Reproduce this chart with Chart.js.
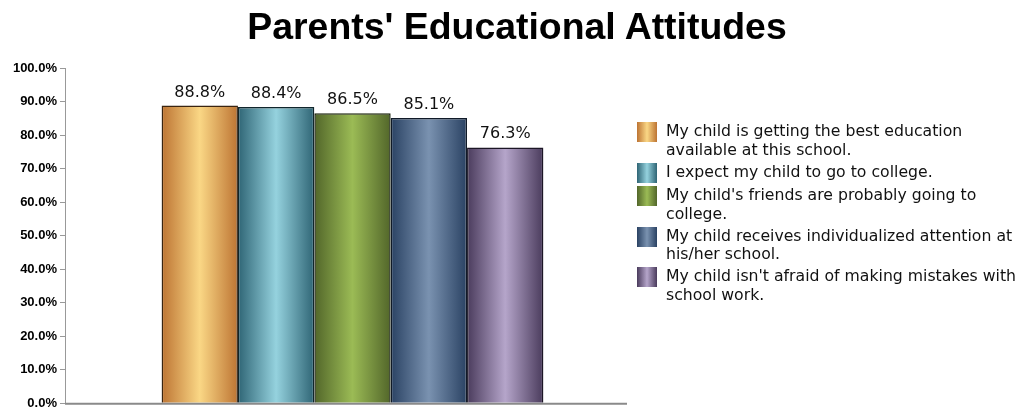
<!DOCTYPE html>
<html>
<head>
<meta charset="utf-8">
<script src="https://cdn.jsdelivr.net/npm/chart.js@4.4.1/dist/chart.umd.min.js"></script>
<style>
  body { margin: 0; background: #fff; overflow: hidden; }
  #wrap { position: relative; width: 1020px; height: 407px; overflow: hidden; }
  #title { position: absolute; left: 0; width: 1034px; top: 4px; text-align: center; font: bold 37.4px "Liberation Sans", Arial, sans-serif; line-height: 44px; color: #000; }
  #legend { position: absolute; left: 637px; top: 122px; font-family: "DejaVu Sans", Verdana, sans-serif; font-size: 15.7px; color: #111; }
  #legend .item { display: flex; align-items: flex-start; margin-bottom: 3.5px; }
  #legend .box { width: 20px; height: 20px; flex: none; margin-right: 9px; }
  #legend .txt { line-height: 18.5px; white-space: nowrap; }
</style>
</head>
<body>
<div id="wrap">
  <canvas id="myChart" width="1020" height="414"></canvas>
  <div id="title"></div>
  <div id="legend"></div>
</div>
<script>
var title = "Parents' Educational Attitudes";
// legend entries, split into their printed lines
var labels = [["My child is getting the best education", "available at this school."],
              ["I expect my child to go to college."],
              ["My child's friends are probably going to", "college."],
              ["My child receives individualized attention at", "his/her school."],
              ["My child isn't afraid of making mistakes with", "school work."]];
var values = [88.8, 88.4, 86.5, 85.1, 76.3];
// edge / highlight colour for each bar
var darkColors = ["#bd7433", "#2f6575", "#52662a", "#2a4263", "#4a3b5c"];
var lightColors = ["#fad785", "#95d2de", "#9bbb55", "#7a92b0", "#b5a5ca"];
var borderColors = ["#3a2410", "#10262c", "#1c240e", "#101a28", "#1c1626"];
var axisEnd = 627;

function barGradient(ctx, left, right, i) {
    var g = ctx.createLinearGradient(left, 0, right, 0);
    g.addColorStop(0, darkColors[i]);
    g.addColorStop(0.5, lightColors[i]);
    g.addColorStop(1, darkColors[i]);
    return g;
}

var gradientBars = {
    id: 'gradientBars',
    beforeDatasetsDraw(chart) {
        chart.data.datasets.forEach((ds, i) => {
            chart.getDatasetMeta(i).data.forEach(bar => {
                bar.options.backgroundColor = barGradient(chart.ctx, bar.x - bar.width / 2, bar.x + bar.width / 2, i);
            });
        });
    }
};

var valueLabels = {
    id: 'valueLabels',
    afterDatasetsDraw(chart) {
        var ctx = chart.ctx;
        ctx.save();
        ctx.font = '16px "DejaVu Sans", Verdana, sans-serif';
        ctx.fillStyle = '#111';
        ctx.textAlign = 'center';
        ctx.textBaseline = 'alphabetic';
        chart.data.datasets.forEach((ds, i) => {
            chart.getDatasetMeta(i).data.forEach((bar, j) => {
                ctx.fillText(ds.data[j].toFixed(1) + '%', bar.x, bar.y - 9);
            });
        });
        ctx.restore();
    }
};

// x axis baseline, a little shorter than the plot area
var baseLine = {
    id: 'baseLine',
    afterDraw(chart) {
        var ctx = chart.ctx;
        var y = chart.scales.y.getPixelForValue(0);
        ctx.save();
        ctx.strokeStyle = '#8a8a8a';
        ctx.lineWidth = 2;
        ctx.beginPath();
        ctx.moveTo(chart.chartArea.left, y + 0.5);
        ctx.lineTo(axisEnd, y + 0.5);
        ctx.stroke();
        ctx.restore();
    }
};

var datasets = labels.map((l, i) => ({
    label: l.join(' '),
    data: [values[i]],
    backgroundColor: lightColors[i],
    borderColor: borderColors[i],
    borderWidth: 1.5,
    borderSkipped: 'bottom',
    barPercentage: 1,
    categoryPercentage: 0.664
}));

var chart = new Chart(document.getElementById('myChart'), {
    type: 'bar',
    data: { labels: [''], datasets: datasets },
    plugins: [gradientBars, valueLabels, baseLine],
    options: {
        responsive: false,
        animation: false,
        layout: { padding: { left: 0, right: 380, top: 68, bottom: 0 } },
        plugins: {
            legend: { display: false },
            tooltip: { enabled: false },
            title: { display: false }
        },
        scales: {
            x: {
                grid: { display: false },
                ticks: { display: false },
                border: { display: false }
            },
            y: {
                min: 0, max: 100,
                ticks: {
                    stepSize: 10,
                    padding: 3,
                    color: '#000',
                    font: { family: '"Liberation Sans", Arial, sans-serif', size: 13, weight: 'bold' },
                    callback: v => v.toFixed(1) + '%'
                },
                grid: { drawOnChartArea: false, tickLength: 5, color: '#999' },
                border: { color: '#999' },
                afterFit(scale) { scale.width = 65; }
            }
        }
    }
});

document.getElementById('title').textContent = title;

// legend with the same bar shading
var legend = document.getElementById('legend');
labels.forEach((l, i) => {
    var item = document.createElement('div');
    item.className = 'item';
    var box = document.createElement('div');
    box.className = 'box';
    box.style.background = 'linear-gradient(to right, ' + darkColors[i] + ' 0%, ' + lightColors[i] + ' 50%, ' + darkColors[i] + ' 100%)';
    var txt = document.createElement('div');
    txt.className = 'txt';
    l.forEach(line => {
        var d = document.createElement('div');
        d.textContent = line;
        txt.appendChild(d);
    });
    item.appendChild(box);
    item.appendChild(txt);
    legend.appendChild(item);
});
</script>
</body>
</html>
